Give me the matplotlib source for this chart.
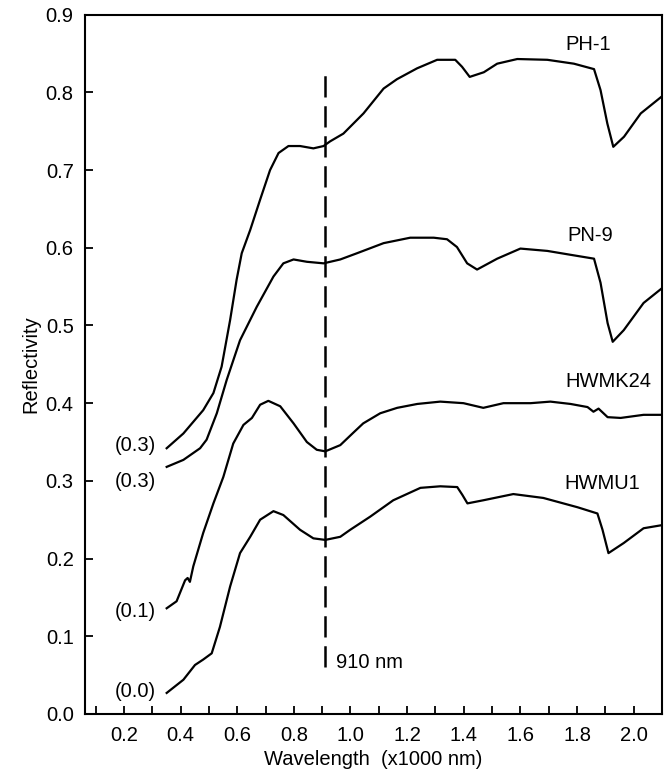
import matplotlib
matplotlib.use("Agg")
import matplotlib.pyplot as plt
from matplotlib.ticker import MultipleLocator

plt.rcParams["font.family"] = ["Liberation Sans", "DejaVu Sans"]

# spectra (wavelength in x1000 nm, reflectivity incl. offset)
ph1_x = [0.351, 0.410, 0.480, 0.516, 0.545, 0.575, 0.598, 0.616, 0.646, 0.681, 0.716,
         0.746, 0.781, 0.822, 0.869, 0.905, 0.928, 0.975, 1.046, 1.117, 1.164, 1.235,
         1.306, 1.370, 1.394, 1.421, 1.471, 1.518, 1.589, 1.695, 1.789, 1.860, 1.883,
         1.907, 1.928, 1.966, 2.025, 2.10]
ph1_y = [0.342, 0.361, 0.391, 0.413, 0.447, 0.507, 0.559, 0.593, 0.623, 0.662, 0.700,
         0.722, 0.731, 0.731, 0.728, 0.731, 0.737, 0.747, 0.773, 0.805, 0.817, 0.831,
         0.842, 0.842, 0.833, 0.820, 0.826, 0.837, 0.843, 0.842, 0.837, 0.830, 0.803,
         0.760, 0.730, 0.743, 0.773, 0.795]

pn9_x = [0.351, 0.410, 0.469, 0.492, 0.528, 0.563, 0.610, 0.669, 0.728, 0.763, 0.799,
         0.846, 0.905, 0.964, 1.023, 1.117, 1.211, 1.294, 1.341, 1.376, 1.412, 1.447,
         1.518, 1.600, 1.695, 1.777, 1.860, 1.883, 1.908, 1.926, 1.965, 2.035, 2.10]
pn9_y = [0.318, 0.327, 0.342, 0.353, 0.387, 0.430, 0.481, 0.524, 0.563, 0.580, 0.585,
         0.582, 0.580, 0.585, 0.593, 0.606, 0.613, 0.613, 0.611, 0.601, 0.580, 0.572,
         0.586, 0.599, 0.596, 0.591, 0.586, 0.555, 0.503, 0.479, 0.494, 0.529, 0.548]

hwmk24_x = [0.351, 0.386, 0.416, 0.425, 0.433, 0.445, 0.480, 0.516, 0.551, 0.586, 0.622,
            0.652, 0.681, 0.710, 0.752, 0.799, 0.846, 0.881, 0.911, 0.964, 1.01, 1.045,
            1.105, 1.165, 1.236, 1.317, 1.399, 1.469, 1.54, 1.636, 1.706, 1.777, 1.837,
            1.858, 1.876, 1.908, 1.954, 2.035, 2.10]
hwmk24_y = [0.136, 0.145, 0.172, 0.175, 0.170, 0.190, 0.233, 0.271, 0.305, 0.348, 0.372,
            0.381, 0.398, 0.403, 0.396, 0.374, 0.350, 0.340, 0.338, 0.346, 0.362, 0.374,
            0.387, 0.394, 0.399, 0.402, 0.400, 0.394, 0.400, 0.400, 0.402, 0.399, 0.395,
            0.389, 0.393, 0.382, 0.381, 0.385, 0.385]

hwmu1_x = [0.351, 0.410, 0.451, 0.480, 0.510, 0.539, 0.575, 0.610, 0.646, 0.681, 0.728,
           0.763, 0.822, 0.869, 0.911, 0.964, 0.999, 1.07, 1.151, 1.247, 1.317, 1.377,
           1.395, 1.413, 1.469, 1.575, 1.681, 1.802, 1.872, 1.89, 1.911, 1.965, 2.035,
           2.10]
hwmu1_y = [0.027, 0.044, 0.063, 0.070, 0.078, 0.112, 0.164, 0.207, 0.228, 0.250, 0.261,
           0.256, 0.237, 0.226, 0.224, 0.228, 0.237, 0.254, 0.275, 0.291, 0.293, 0.292,
           0.282, 0.271, 0.275, 0.283, 0.278, 0.266, 0.258, 0.237, 0.207, 0.220, 0.239,
           0.243]

names = ["PH-1", "PN-9", "HWMK24", "HWMU1"]
offsets = ["(0.3)", "(0.3)", "(0.1)", "(0.0)"]

fig = plt.figure(figsize=(6.68, 7.76), dpi=100)
ax = fig.add_axes([0.127, 0.080, 0.864, 0.901])

series = [(ph1_x, ph1_y), (pn9_x, pn9_y), (hwmk24_x, hwmk24_y), (hwmu1_x, hwmu1_y)]
for (xs, ys) in series:
    ax.plot(xs, ys, color="black", lw=1.6, solid_joinstyle="round")

fs = 14.5

# series names near the right end
name_pos = [(1.84, 0.862), (1.845, 0.616), (1.91, 0.428), (1.89, 0.297)]
for name, (nx, ny) in zip(names, name_pos):
    ax.text(nx, ny, name, fontsize=fs, ha="center", va="center")

# offset labels at the start of each curve
for off, ly in zip(offsets, [0.346, 0.299, 0.132, 0.029]):
    ax.text(0.312, ly, off, fontsize=fs, ha="right", va="center")

ax.axvline(0.91, ymin=0.067, ymax=0.925, color="black", lw=1.8, ls=(0, (8.5, 3.5)))
ax.text(0.95, 0.066, "910 nm", fontsize=fs, ha="left", va="center")

ax.set_xlim(0.062, 2.10)
ax.set_ylim(0.0, 0.9)
ax.xaxis.set_major_locator(MultipleLocator(0.2))
ax.xaxis.set_minor_locator(MultipleLocator(0.1))
ax.yaxis.set_major_locator(MultipleLocator(0.1))
ax.xaxis.set_major_formatter(plt.FuncFormatter(lambda v, p: f"{v:.1f}"))
ax.yaxis.set_major_formatter(plt.FuncFormatter(lambda v, p: f"{v:.1f}"))
ax.tick_params(which="both", direction="in", length=6, width=1.3, labelsize=fs)
ax.tick_params(axis="x", pad=9)
ax.tick_params(axis="y", pad=8)
for sp in ax.spines.values():
    sp.set_linewidth(1.5)

ax.set_xlabel("Wavelength  (x1000 nm)", fontsize=fs, labelpad=3)
ax.set_ylabel("Reflectivity", fontsize=fs, labelpad=4)

fig.savefig("out.png", dpi=100)
